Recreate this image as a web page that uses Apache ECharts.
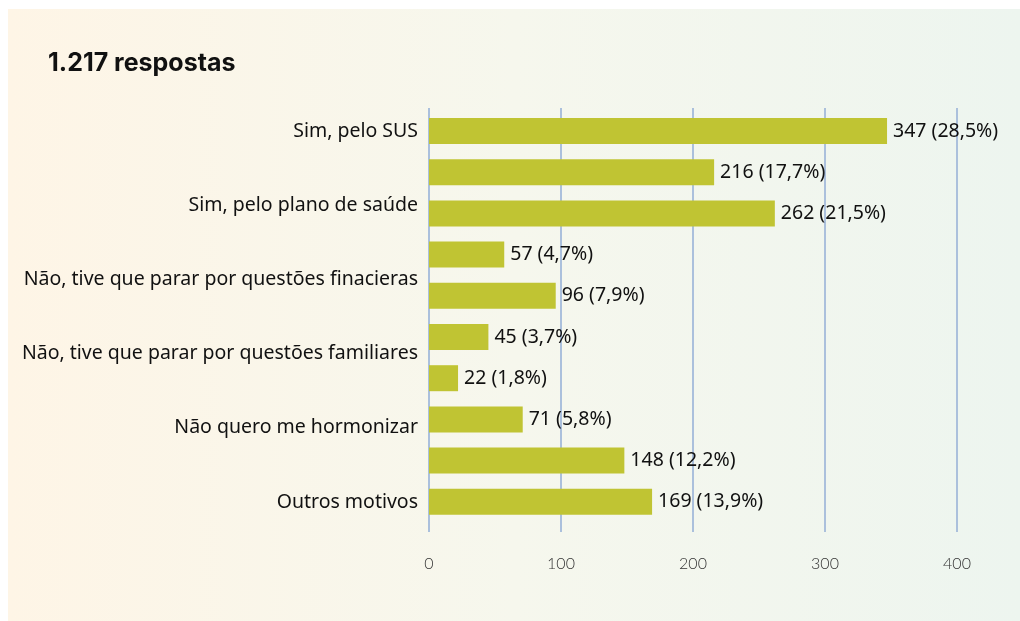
<!DOCTYPE html>
<html lang="pt-BR">
<head>
  <meta charset="UTF-8">
  <title>1.217 respostas</title>
  <script src="https://cdn.jsdelivr.net/npm/echarts@6/dist/echarts.min.js"></script>
  <style>
    html, body { margin: 0; padding: 0; background: #fff; }
    #chart { width: 1020px; height: 621px; }
  </style>
</head>
<body>
  <div id="chart"></div>
  <script>
    // dados
    const barValues = [347, 216, 262, 57, 96, 45, 22, 71, 148, 169];
    const barPercents = ['28,5', '17,7', '21,5', '4,7', '7,9', '3,7', '1,8', '5,8', '12,2', '13,9'];
    const barIds = ['b1', 'b2', 'b3', 'b4', 'b5', 'b6', 'b7', 'b8', 'b9', 'b10'];
    const categoryLabels = [
      'Sim, pelo SUS',
      'Sim, pelo plano de saúde',
      'Não, tive que parar por questões finacieras',
      'Não, tive que parar por questões familiares',
      'Não quero me hormonizar',
      'Outros motivos'
    ];
    const xTicks = [0, 400, 100]; // min, max, intervalo

    const chart = echarts.init(document.getElementById('chart'));

    const option = {
      backgroundColor: '#ffffff',
      title: {
        text: '1.217 respostas',
        left: 43,
        top: 46,
        textStyle: { fontFamily: 'Inter', fontWeight: 'bold', fontSize: 25, color: '#111' }
      },
      graphic: [{
        type: 'rect',
        z: -10,
        shape: { x: 8, y: 9, width: 1012, height: 612 },
        style: {
          fill: new echarts.graphic.LinearGradient(0, 0, 1, 0, [
            { offset: 0, color: '#fef5e6' },
            { offset: 0.5, color: '#f6f7ed' },
            { offset: 1, color: '#edf5ef' }
          ])
        }
      }],
      grid: [
        // barras
        { left: 429, right: 63, top: 110.4, height: 412 },
        // linhas de grade e eixo x
        { left: 429, right: 63, top: 108, height: 424 },
        // rótulos das categorias
        { left: 429, right: 63, top: 131, height: 371 }
      ],
      xAxis: [
        {
          gridIndex: 0, type: 'value', min: xTicks[0], max: xTicks[1], interval: xTicks[2],
          axisLine: { show: false }, axisTick: { show: false }, axisLabel: { show: false },
          splitLine: { show: false }
        },
        {
          gridIndex: 1, type: 'value', min: xTicks[0], max: xTicks[1], interval: xTicks[2],
          axisLine: { show: false }, axisTick: { show: false },
          axisLabel: {
            margin: 24, fontFamily: 'Lato', fontWeight: 300, fontSize: 16, color: '#333'
          },
          splitLine: { show: true, lineStyle: { color: '#abc0dc', width: 2 } }
        },
        {
          gridIndex: 2, type: 'value', min: 0, max: 400, show: false
        }
      ],
      yAxis: [
        {
          gridIndex: 0, type: 'category', data: barIds, inverse: true,
          axisLine: { show: false }, axisTick: { show: false }, axisLabel: { show: false }
        },
        {
          gridIndex: 1, type: 'category', data: ['a'], show: false
        },
        {
          gridIndex: 2, type: 'category', data: categoryLabels, inverse: true, boundaryGap: false,
          axisLine: { show: false }, axisTick: { show: false },
          axisLabel: {
            margin: 11, fontFamily: 'Noto Sans', fontSize: 19.5, color: '#111'
          }
        }
      ],
      series: [{
        type: 'bar',
        xAxisIndex: 0,
        yAxisIndex: 0,
        data: barValues,
        barWidth: 26,
        itemStyle: { color: '#c0c433' },
        label: {
          show: true,
          position: 'right',
          distance: 6,
          fontFamily: 'Noto Sans',
          fontSize: 19.5,
          color: '#111',
          formatter: p => p.value + ' (' + barPercents[p.dataIndex] + '%)'
        }
      }]
    };

    chart.setOption(option);
  </script>
</body>
</html>
